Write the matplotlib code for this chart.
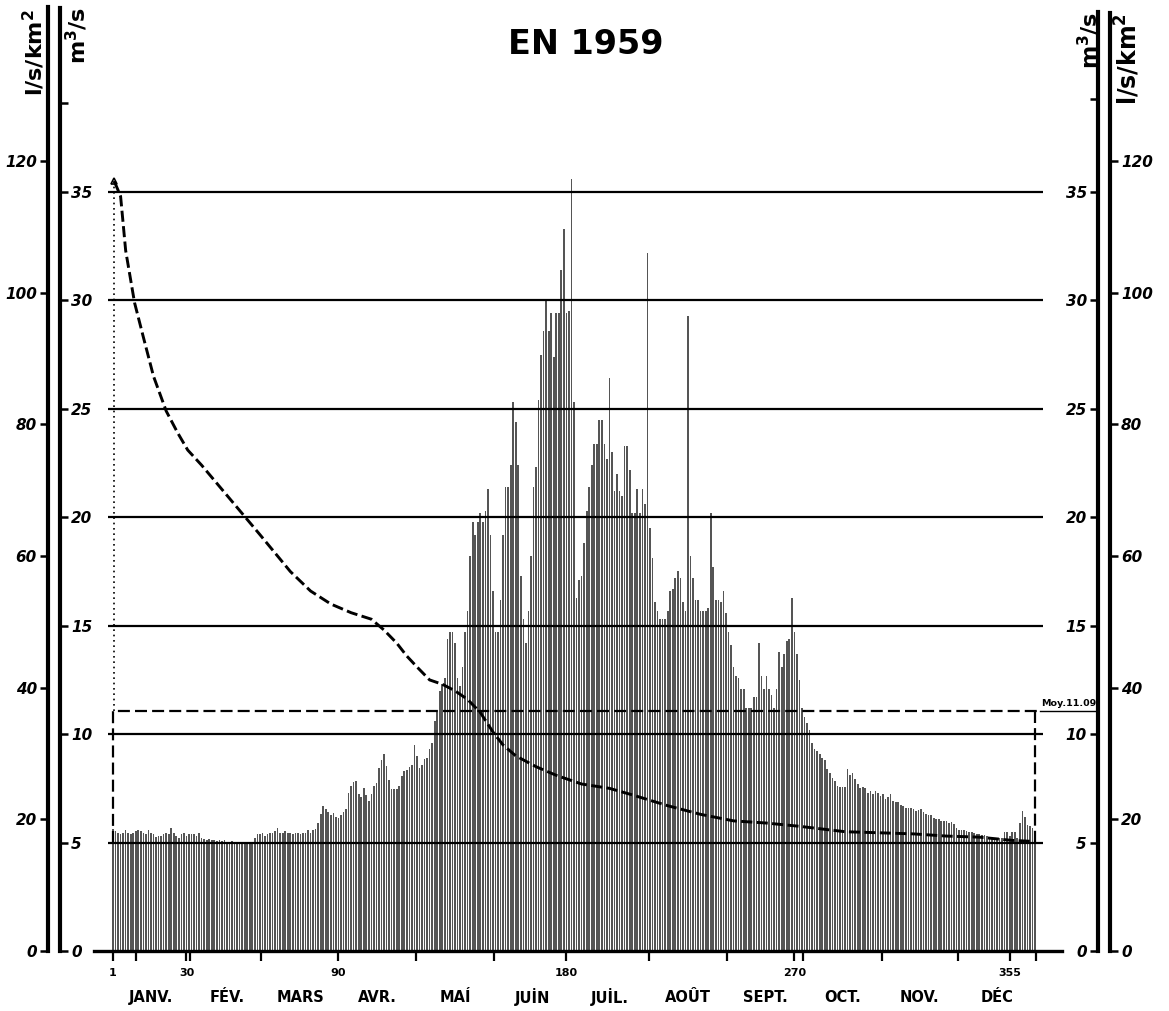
"""
Débits journaliers 1959 (m3/s et l/s/km2) avec courbe des débits classés
et module annuel.
"""

import numpy as np
import matplotlib
matplotlib.use("Agg")
import matplotlib.pyplot as plt

plt.rcParams["font.family"] = ["DejaVu Sans"]
plt.rcParams["mathtext.default"] = "regular"

# Daily discharge, m3/s
Q_JAN = [5.62, 5.55, 5.46, 5.38, 5.46, 5.57, 5.46, 5.38, 5.46, 5.54, 5.57, 5.54, 5.46, 5.38, 5.57, 5.46,
         5.38, 5.26, 5.31, 5.31, 5.38, 5.46, 5.38, 5.69, 5.46, 5.31, 5.23, 5.38, 5.42, 5.31, 5.38]
Q_FEB = [5.38, 5.38, 5.31, 5.42, 5.23, 5.15, 5.11, 5.15, 5.11, 5.11, 5.08, 5.11, 5.08, 5.11, 5.0, 5.0,
         5.05, 5.0, 4.98, 4.98, 4.98, 4.97, 4.97, 4.97, 4.98, 5.23, 5.38, 5.38]
Q_MAR = [5.42, 5.31, 5.38, 5.42, 5.46, 5.54, 5.69, 5.46, 5.46, 5.54, 5.46, 5.46, 5.38, 5.42, 5.46, 5.38,
         5.46, 5.46, 5.57, 5.46, 5.57, 5.62, 5.9, 6.3, 6.7, 6.55, 6.4, 6.25, 6.35, 6.2, 6.15]
Q_APR = [6.25, 6.4, 6.55, 7.3, 7.6, 7.8, 7.85, 7.25, 7.1, 7.5, 7.2, 6.9, 7.25, 7.6, 7.75, 8.45,
         8.8, 9.1, 8.55, 7.9, 7.45, 7.45, 7.45, 7.6, 8.05, 8.3, 8.35, 8.5, 8.6, 9.5]
Q_MAY = [9.0, 8.45, 8.6, 8.85, 8.9, 9.3, 9.6, 10.6, 11.0, 12.0, 12.3, 12.6, 14.4, 14.7, 14.7, 14.2,
         12.6, 12.2, 13.1, 14.7, 15.7, 18.2, 19.8, 19.2, 19.8, 20.2, 19.8, 20.3, 21.3, 19.2, 16.6]
Q_JUN = [14.7, 14.7, 16.2, 19.2, 21.4, 21.4, 22.4, 25.3, 24.4, 22.4, 17.3, 15.3, 14.2, 15.7, 18.2, 21.4,
         22.3, 25.4, 27.5, 28.6, 30.0, 28.6, 29.4, 27.4, 29.4, 29.4, 31.4, 33.3, 29.4, 29.5]
Q_JUL = [35.6, 25.3, 16.3, 17.1, 17.3, 18.8, 20.3, 21.4, 22.4, 23.4, 23.4, 24.5, 24.5, 23.4, 22.7, 26.4,
         23.0, 21.2, 22.0, 21.2, 21.0, 23.3, 23.3, 22.2, 20.2, 20.2, 21.3, 20.2, 21.3, 20.6, 32.2]
Q_AUG = [19.5, 18.1, 16.1, 15.7, 15.3, 15.3, 15.3, 15.7, 16.6, 16.7, 17.2, 17.5, 17.2, 16.1, 15.7, 29.3,
         18.2, 17.2, 16.2, 16.2, 15.7, 15.7, 15.7, 15.8, 20.2, 17.7, 16.2, 16.2, 16.1, 16.6, 15.6]
Q_SEP = [14.7, 14.1, 13.1, 12.7, 12.6, 12.1, 12.1, 11.2, 11.2, 11.2, 11.7, 11.7, 14.2, 12.7, 12.1, 12.7,
         12.1, 11.8, 11.2, 12.1, 13.8, 13.1, 13.7, 14.3, 14.4, 16.3, 14.7, 13.7, 12.5, 11.2]
Q_OCT = [10.8, 10.5, 10.2, 9.6, 9.3, 9.2, 9.1, 8.9, 8.8, 8.4, 8.2, 8.0, 7.85, 7.6, 7.55, 7.55,
         7.55, 8.4, 8.1, 8.2, 7.95, 7.7, 7.5, 7.55, 7.5, 7.3, 7.4, 7.25, 7.4, 7.3, 7.15]
Q_NOV = [7.25, 7.0, 7.1, 7.25, 6.9, 6.85, 6.85, 6.75, 6.7, 6.6, 6.6, 6.6, 6.55, 6.45, 6.5, 6.55,
         6.4, 6.3, 6.25, 6.25, 6.15, 6.1, 6.1, 6.0, 6.0, 6.0, 5.9, 5.95, 5.85, 5.65]
Q_DEC = [5.6, 5.6, 5.6, 5.55, 5.5, 5.5, 5.45, 5.4, 5.4, 5.35, 5.35, 5.3, 5.25, 5.2, 5.2, 5.2,
         5.2, 5.2, 5.5, 5.5, 5.3, 5.5, 5.5, 5.2, 5.9, 6.45, 6.2, 5.8, 5.75, 5.65, 5.55]

# Courbe des débits classés (dashed)
CURVE_DAYS = [1.5, 4, 6, 9.5, 13, 17, 22, 26.5, 30.5, 36, 47.5, 59, 71, 79, 87, 95, 103, 108,
              113, 117, 121, 126, 131, 136, 141, 146, 151, 155, 160, 168, 176, 186, 197, 206,
              220, 233, 246, 259, 272, 290, 304, 317, 330, 343, 356, 365]
CURVE_Q = [35.5, 34.8, 32.3, 29.9, 28.3, 26.5, 24.9, 23.9, 23.1, 22.4, 20.8, 19.2, 17.5, 16.6,
           16.0, 15.6, 15.3, 14.8, 14.2, 13.6, 13.1, 12.5, 12.3, 12.0, 11.6, 11.0, 10.1, 9.5,
           9.0, 8.5, 8.1, 7.7, 7.5, 7.2, 6.7, 6.3, 6.0, 5.9, 5.75, 5.5, 5.45, 5.4, 5.3, 5.25,
           5.1, 5.05]

MEAN_Q = 11.09
LS_KM2_PER_M3S = 3.295          # 1 m3/s = 3.295 l/s/km2

GRID_LEVELS = [5, 10, 15, 20, 25, 30, 35]
M3S_TICKS = [0, 5, 10, 15, 20, 25, 30, 35]
LSKM_TICKS = [0, 20, 40, 60, 80, 100, 120]

DAY_TICKS = [1, 30, 90, 180, 270, 355]
DAY_TICK_LABELS = ["1", "30", "90", "180", "270", "355"]
MONTH_EDGES = [10, 31.5, 59.5, 120.5, 151.5, 212.5, 243.5, 273.5, 304.5, 334.5, 365.5]
MONTHS = ["JANV.", "FÉV.", "MARS", "AVR.", "MAÍ", "JUİN", "JUİL.", "AOÛT", "SEPT.", "OCT.",
          "NOV.", "DÉC"]
MONTH_MID = [16, 46, 75, 105.5, 136, 166.5, 197, 228, 258.5, 289, 319.5, 350]

W, H = 1169, 1011
Y_BOT, Y_TOP = 951, 8           # pixel rows of 0 and of the top of the frame
PX_PER_M3S = 21.686
YMAX = (Y_BOT - Y_TOP) / PX_PER_M3S


def fx(px):
    return px / W


def fy(py):
    return 1 - py / H


def scale_axis(fig, x_px, side, factor, ticks, top_px, minor=None, fontsize=11):
    """Thin stand-alone vertical scale with a single visible spine."""
    w = 0.0005
    left = fx(x_px) if side == "left" else fx(x_px) - w
    a = fig.add_axes([left, fy(Y_BOT), w, (Y_BOT - Y_TOP) / H])
    a.patch.set_visible(False)
    a.set_ylim(0, YMAX * factor)
    a.set_xticks([])
    for s in a.spines:
        a.spines[s].set_visible(s == side)
    a.spines[side].set_linewidth(3.0)
    a.spines[side].set_bounds(0, (Y_BOT - top_px) / PX_PER_M3S * factor)
    a.yaxis.set_ticks_position(side)
    a.set_yticks(ticks)
    a.set_yticklabels([str(t) for t in ticks], fontsize=fontsize, style="italic",
                      fontweight="bold")
    if minor:
        a.set_yticks(minor, minor=True)
    a.tick_params(axis="y", which="both", direction="out", length=5.5, width=1.8, pad=2.5)
    return a


def main():
    q = np.array(Q_JAN + Q_FEB + Q_MAR + Q_APR + Q_MAY + Q_JUN + Q_JUL + Q_AUG + Q_SEP
                 + Q_OCT + Q_NOV + Q_DEC)
    assert len(q) == 365
    days = np.arange(1, 366)

    fig = plt.figure(figsize=(W / 100, H / 100), dpi=100)

    x0, x1 = 94, 1061.6
    ax = fig.add_axes([fx(x0), fy(Y_BOT), (x1 - x0) / W, (Y_BOT - Y_TOP) / H])
    ax.set_xlim(-6.5, 375.5)
    ax.set_ylim(0, YMAX)
    for s in ["left", "right", "top"]:
        ax.spines[s].set_visible(False)
    ax.spines["bottom"].set_linewidth(2.4)
    ax.set_yticks([])

    # daily bars
    ax.bar(days, q, width=0.66, color="#555555", linewidth=0, zorder=2)

    # horizontal reference lines
    ax.hlines(GRID_LEVELS, -1, 368.2, color="black", lw=1.6, zorder=3)

    # module annuel
    dash = (0, (5.4, 2.3))
    ax.plot([0.9, 0.9, 367], [5, MEAN_Q, MEAN_Q], color="black", lw=1.6, ls=dash, zorder=4)
    ax.plot([365, 365], [MEAN_Q, 5], color="black", lw=1.6, ls=dash, zorder=4)
    ax.plot([367, 389], [MEAN_Q, MEAN_Q], color="black", lw=1.0, clip_on=False, zorder=4)
    ax.text(367.5, MEAN_Q + 0.12, "Moy.11.09", fontsize=6.8, fontweight="bold",
            ha="left", va="bottom", clip_on=False)

    # dotted line from the maximum down to the module
    ax.plot([1.4, 1.4], [MEAN_Q, CURVE_Q[0]], color="black", lw=1.2, ls=(0, (1, 2.2)), zorder=4)

    # courbe des débits classés
    ax.plot(CURVE_DAYS, CURVE_Q, color="black", lw=2.1, ls=(0, (3.8, 1.5)), zorder=5)
    ax.plot(CURVE_DAYS[0], CURVE_Q[0], marker="^", ms=5, mfc="none", mec="black", mew=1.2,
            zorder=5)

    # x axis: day numbers and month names
    ax.set_xticks(DAY_TICKS)
    ax.set_xticklabels(DAY_TICK_LABELS, fontsize=8, fontweight="bold")
    ax.set_xticks(MONTH_EDGES, minor=True)
    ax.tick_params(axis="x", which="both", direction="out", length=7, width=1.6, pad=5)
    for name, mid in zip(MONTHS, MONTH_MID):
        ax.text(mid, -0.049, name, transform=ax.get_xaxis_transform(), ha="center",
                va="center", fontsize=10.5, fontweight="bold")

    # four vertical scales
    scale_axis(fig, 48, "left", LS_KM2_PER_M3S, LSKM_TICKS, 7)
    scale_axis(fig, 60, "right", 1.0, M3S_TICKS, 8, minor=[39.1])
    scale_axis(fig, 1098, "left", 1.0, M3S_TICKS, 12, minor=[39.3])
    scale_axis(fig, 1110, "right", LS_KM2_PER_M3S, LSKM_TICKS, 13)

    # scale names and title
    kw = dict(rotation=90, ha="center", va="top", fontweight="bold")
    fig.text(fx(34), fy(9), "l/s/km$^2$", fontsize=16, **kw)
    fig.text(fx(77), fy(7), "m$^3$/s", fontsize=16, **kw)
    fig.text(fx(1089), fy(12), "m$^3$/s", fontsize=16, **kw)
    fig.text(fx(1128), fy(13), "l/s/km$^2$", fontsize=17, **kw)
    fig.text(fx(586), fy(45), "EN 1959", ha="center", va="center", fontsize=24,
             fontweight="bold")

    fig.savefig("out.png", dpi=100)
    plt.close(fig)


if __name__ == "__main__":
    main()
